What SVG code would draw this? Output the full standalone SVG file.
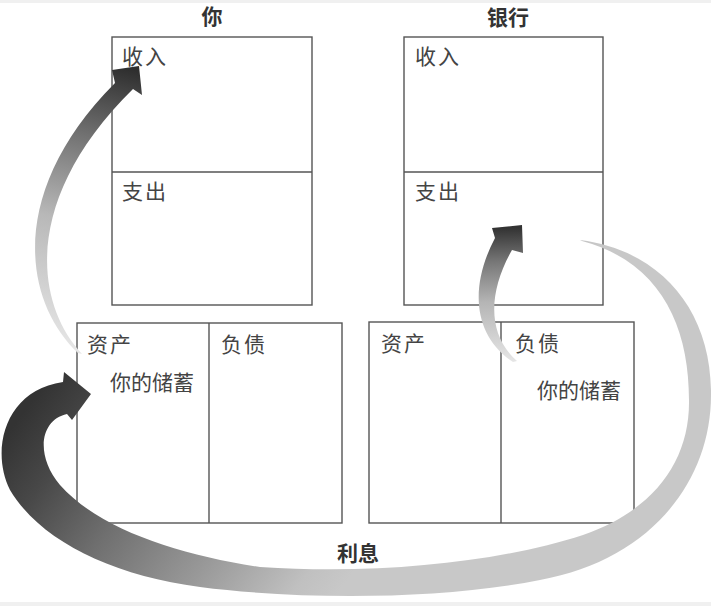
<svg xmlns="http://www.w3.org/2000/svg" width="711" height="606" viewBox="0 0 711 606">
  <style>
    .box { fill: #ffffff; stroke: #555555; stroke-width: 1.4; }
    .div { stroke: #555555; stroke-width: 1.4; fill: none; }
    .lbl { font-family: "Noto Sans CJK SC", "Noto Sans", sans-serif; font-size: 21px; fill: #444444; }
    .two { letter-spacing: 2px; }
    .ttl { font-family: "Noto Sans CJK SC", "Noto Sans", sans-serif; font-size: 21px; font-weight: bold; fill: #333333; text-anchor: middle; }
  </style>
  <defs>
    <linearGradient id="gLeft" gradientUnits="userSpaceOnUse" x1="70" y1="355" x2="135" y2="70">
      <stop offset="0" stop-color="#e8e8e8"/>
      <stop offset="0.45" stop-color="#b8b8b8"/>
      <stop offset="0.75" stop-color="#707070"/>
      <stop offset="1" stop-color="#2e2e2e"/>
    </linearGradient>
    <linearGradient id="gRight" gradientUnits="userSpaceOnUse" x1="515" y1="362" x2="512" y2="228">
      <stop offset="0" stop-color="#e6e6e6"/>
      <stop offset="0.45" stop-color="#b5b5b5"/>
      <stop offset="0.75" stop-color="#777777"/>
      <stop offset="1" stop-color="#333333"/>
    </linearGradient>
    <linearGradient id="gBig" gradientUnits="userSpaceOnUse" x1="40" y1="390" x2="328" y2="606">
      <stop offset="0" stop-color="#333333"/>
      <stop offset="0.16" stop-color="#484848"/>
      <stop offset="0.39" stop-color="#707070"/>
      <stop offset="0.66" stop-color="#999999"/>
      <stop offset="0.9" stop-color="#c0c0c0"/>
      <stop offset="1" stop-color="#c8c8c8"/>
    </linearGradient>
  </defs>

  <rect x="0" y="0" width="711" height="606" fill="#f0f0f0"/>
  <rect x="0" y="3" width="711" height="599" fill="#ffffff"/>

  <g id="title-you">
    <text class="ttl" x="212" y="24">你</text>
  </g>
  <g id="title-bank">
    <text class="ttl" x="508" y="25">银行</text>
  </g>

  <g id="you-income-statement">
    <rect class="box" x="112" y="37" width="200" height="268"/>
    <line class="div" x1="112" y1="172" x2="312" y2="172"/>
    <text class="lbl two" x="122" y="64">收入</text>
    <text class="lbl two" x="122" y="199">支出</text>
  </g>

  <g id="bank-income-statement">
    <rect class="box" x="404" y="37" width="199" height="268"/>
    <line class="div" x1="404" y1="172" x2="603" y2="172"/>
    <text class="lbl two" x="415" y="64">收入</text>
    <text class="lbl two" x="415" y="199">支出</text>
  </g>

  <g id="you-balance-sheet">
    <rect class="box" x="77" y="323" width="265" height="200"/>
    <line class="div" x1="209" y1="323" x2="209" y2="523"/>
    <text class="lbl two" x="87" y="352">资产</text>
    <text class="lbl two" x="221" y="352">负债</text>
    <text class="lbl" x="110" y="390">你的储蓄</text>
  </g>

  <g id="bank-balance-sheet">
    <rect class="box" x="369" y="322" width="265" height="201"/>
    <line class="div" x1="501" y1="322" x2="501" y2="523"/>
    <text class="lbl two" x="381" y="351">资产</text>
    <text class="lbl two" x="515" y="351">负债</text>
    <text class="lbl" x="537" y="398">你的储蓄</text>
  </g>

  <g id="connectors">
    <path id="arrow-savings-to-income" fill="url(#gLeft)"
      d="M 78 353 C 22 300, 8 190, 115 83 L 112 70 L 139 66 L 142 95 L 133 89 C 25 195, 32 300, 82 354 Z"/>
    <path id="arrow-liability-to-expense" fill="url(#gRight)"
      d="M 513 362 C 472 335, 470 285, 495 238 L 492 228 L 522 225 L 523 253 L 512 250 C 488 292, 487 335, 517 361 Z"/>
    <path id="arrow-interest" fill="url(#gBig)"
      d="M 580 240 C 660 250, 712 310, 711 395 C 711 482, 650 560, 540 580 C 440 600, 300 600, 200 587 C 110 575, 40 540, 10 490 C -10 450, 5 390, 63 382 L 64 372 L 91 394 L 72 420 L 67 414 C 40 420, 35 455, 60 485 C 100 530, 180 555, 260 567 C 380 575, 500 562, 583 535 C 655 510, 690 460, 689 400 C 689 325, 660 262, 582 241 Z"/>
    <text class="ttl" x="358" y="561">利息</text>
  </g>
</svg>
